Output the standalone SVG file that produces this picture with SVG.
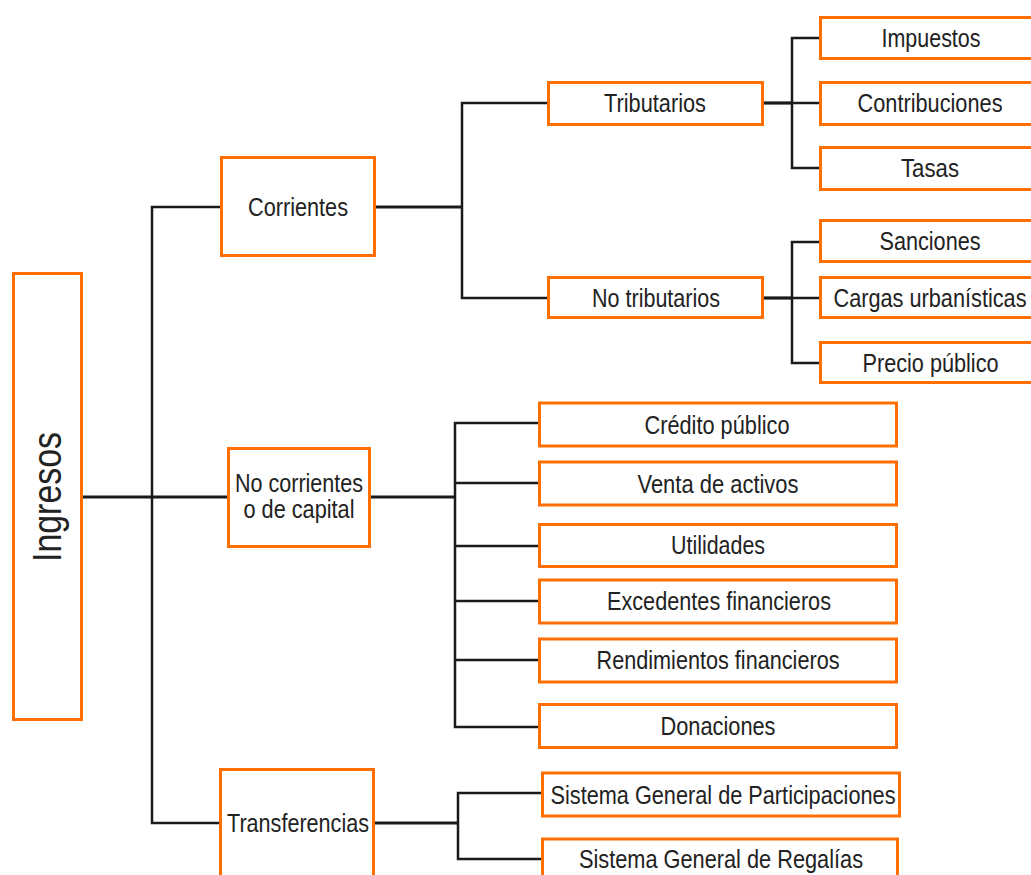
<svg xmlns="http://www.w3.org/2000/svg" width="1031" height="875" viewBox="0 0 1031 875">
<style>
.box{fill:#fff;stroke:#FF6E00;stroke-width:3}
.t{font-family:"Liberation Sans",Arial,sans-serif;font-size:25px;fill:#222;text-anchor:middle}
.c{fill:none;stroke:#1a1a1a;stroke-width:2.5}
.ct{fill:none;stroke:#1a1a1a;stroke-width:3.2}
</style>
<rect width="1031" height="875" fill="#fff"/>
<g id="connectors">
<path class="ct" d="M83 497 H228"/>
<path class="c" d="M221 207 H152 V823 H220"/>
<path class="ct" d="M376 207 H462"/>
<path class="c" d="M548 103 H462 V298 H548"/>
<path class="ct" d="M764 103 H792"/>
<path class="c" d="M792 103 H820 M820 38 H792 V168 H820"/>
<path class="ct" d="M764 298 H792"/>
<path class="c" d="M792 298 H820 M820 242 H792 V363 H820"/>
<path class="ct" d="M371 497 H455"/>
<path class="c" d="M539 423 H455 V727 H539 M455 483 H539 M455 546 H539 M455 601 H539 M455 660 H539"/>
<path class="ct" d="M375 823 H458"/>
<path class="c" d="M542 793 H458 V859 H542"/>
</g>
<g id="ingresos">
<rect class="box" x="13.5" y="273.5" width="68" height="446"/>
<text class="t" style="font-size:40px" transform="translate(61,497) rotate(-90)" textLength="130" lengthAdjust="spacingAndGlyphs">Ingresos</text>
</g>
<g id="corrientes">
<rect class="box" x="221.5" y="157.5" width="153" height="98"/>
<text class="t" x="298" y="216" textLength="100" lengthAdjust="spacingAndGlyphs">Corrientes</text>
</g>
<g id="no-corrientes">
<rect class="box" x="228.5" y="448.5" width="141" height="98"/>
<text class="t" x="299" y="492" textLength="128" lengthAdjust="spacingAndGlyphs">No corrientes</text>
<text class="t" x="299" y="518" textLength="111" lengthAdjust="spacingAndGlyphs">o de capital</text>
</g>
<g id="transferencias">
<rect class="box" x="220.5" y="769.5" width="153" height="120"/>
<text class="t" x="298" y="832" textLength="142" lengthAdjust="spacingAndGlyphs">Transferencias</text>
</g>
<g id="tributarios">
<rect class="box" x="548.5" y="82.5" width="214" height="42"/>
<text class="t" x="655" y="112" textLength="102" lengthAdjust="spacingAndGlyphs">Tributarios</text>
</g>
<g id="no-tributarios">
<rect class="box" x="548.5" y="277.5" width="214" height="40"/>
<text class="t" x="656" y="307" textLength="128" lengthAdjust="spacingAndGlyphs">No tributarios</text>
</g>
<g id="impuestos">
<rect class="box" x="820.5" y="17.5" width="220" height="41"/>
<text class="t" x="931" y="47" textLength="99" lengthAdjust="spacingAndGlyphs">Impuestos</text>
</g>
<g id="contribuciones">
<rect class="box" x="820.5" y="82.5" width="220" height="42"/>
<text class="t" x="930" y="112" textLength="145" lengthAdjust="spacingAndGlyphs">Contribuciones</text>
</g>
<g id="tasas">
<rect class="box" x="820.5" y="147.5" width="220" height="42"/>
<text class="t" x="930" y="177" textLength="58" lengthAdjust="spacingAndGlyphs">Tasas</text>
</g>
<g id="sanciones">
<rect class="box" x="820.5" y="220.5" width="220" height="41"/>
<text class="t" x="930" y="250" textLength="101" lengthAdjust="spacingAndGlyphs">Sanciones</text>
</g>
<g id="cargas">
<rect class="box" x="820.5" y="277.5" width="220" height="40"/>
<text class="t" x="930" y="306.5" textLength="193" lengthAdjust="spacingAndGlyphs">Cargas urbanísticas</text>
</g>
<g id="precio">
<rect class="box" x="820.5" y="342.5" width="220" height="40"/>
<text class="t" x="930.5" y="371.5" textLength="136" lengthAdjust="spacingAndGlyphs">Precio público</text>
</g>
<g id="credito">
<rect class="box" x="539.5" y="403" width="357" height="43"/>
<text class="t" x="717" y="433.5" textLength="145" lengthAdjust="spacingAndGlyphs">Crédito público</text>
</g>
<g id="venta">
<rect class="box" x="539.5" y="462" width="357" height="43"/>
<text class="t" x="718" y="493" textLength="161" lengthAdjust="spacingAndGlyphs">Venta de activos</text>
</g>
<g id="utilidades">
<rect class="box" x="539.5" y="524.5" width="357" height="42"/>
<text class="t" x="718" y="554" textLength="94" lengthAdjust="spacingAndGlyphs">Utilidades</text>
</g>
<g id="excedentes">
<rect class="box" x="539.5" y="580" width="357" height="43"/>
<text class="t" x="719" y="610" textLength="224" lengthAdjust="spacingAndGlyphs">Excedentes financieros</text>
</g>
<g id="rendimientos">
<rect class="box" x="539.5" y="639" width="357" height="43"/>
<text class="t" x="718" y="669" textLength="243" lengthAdjust="spacingAndGlyphs">Rendimientos financieros</text>
</g>
<g id="donaciones">
<rect class="box" x="539.5" y="704.5" width="357" height="43"/>
<text class="t" x="718" y="735" textLength="115" lengthAdjust="spacingAndGlyphs">Donaciones</text>
</g>
<g id="sgp">
<rect class="box" x="542.5" y="773" width="357" height="43"/>
<text class="t" x="723" y="803.5" textLength="345" lengthAdjust="spacingAndGlyphs">Sistema General de Participaciones</text>
</g>
<g id="sgr">
<rect class="box" x="542.5" y="839" width="355" height="45"/>
<text class="t" x="721" y="868" textLength="284" lengthAdjust="spacingAndGlyphs">Sistema General de Regalías</text>
</g>
</svg>
